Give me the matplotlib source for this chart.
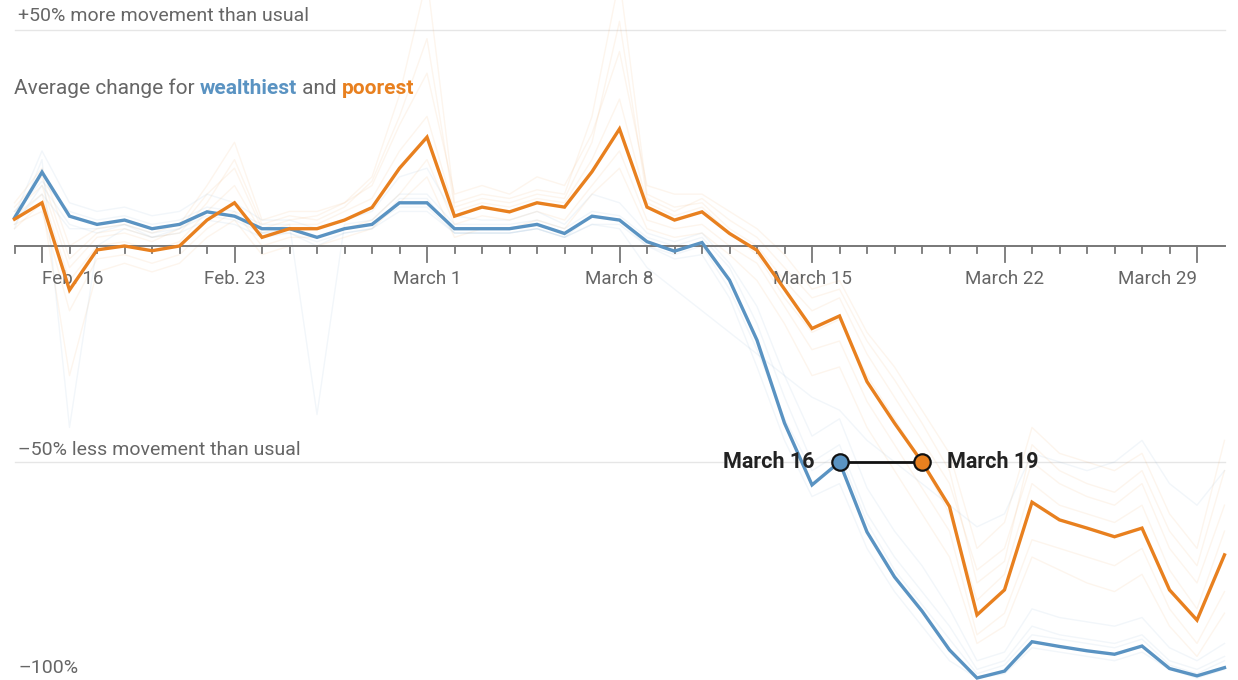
import matplotlib.pyplot as plt

plt.rcParams['font.family'] = ['Roboto', 'DejaVu Sans']

#----- data (percent change in movement vs usual, Feb 15 .. March 30) -----
days = list(range(45))
tick_idx = [1, 8, 15, 22, 29, 36, 43]
tick_labels = ['Feb. 16', 'Feb. 23', 'March 1', 'March 8', 'March 15', 'March 22', 'March 29']

wealthiest = [6.5, 17.1, 6.9, 5.0, 6.0, 4.0, 5.0, 7.9, 6.9, 4.0, 4.0, 2.0, 4.0, 5.0, 10.0,
              10.0, 4.0, 4.0, 4.0, 5.0, 2.9, 6.9, 6.0, 1.0, -1.2, 0.8, -7.9, -21.8, -41.0, -55.3,
              -50.0, -66.2, -76.6, -84.5, -93.5, -100.0, -98.4, -91.6, -92.7, -93.7, -94.5, -92.6, -97.8, -99.5, -97.6]
poorest = [6.2, 10.0, -10.2, -0.9, 0.0, -1.1, 0.0, 6.0, 10.0, 2.0, 4.0, 4.0, 6.0, 8.9, 18.0,
           25.2, 6.9, 9.0, 7.9, 10.0, 9.0, 17.2, 27.1, 9.0, 6.0, 7.9, 2.9, -1.0, -10.0, -19.1,
           -16.2, -31.4, -41.0, -50.0, -60.3, -85.4, -79.6, -59.3, -63.4, -65.3, -67.3, -65.3, -79.6, -86.6, -71.5]

# a few individual neighborhoods, drawn faintly behind the averages
faint_orange = [
    [8, 14, -5, 2, 3, 1, 4, 12, 18, 4, 6, 7, 10, 16, 35, 62, 10, 12, 11, 13, 12, 30, 62, 12, 9, 10, 4, 0, -8, -15,
     -12, -25, -35, -45, -55, -75, -70, -50, -55, -58, -60, -55, -70, -78, -60],
    [5, 8, -15, -3, -2, -4, -2, 4, 8, 0, 2, 2, 4, 6, 12, 20, 5, 7, 6, 8, 6, 14, 22, 6, 4, 5, 0, -4, -14, -24,
     -22, -36, -46, -56, -66, -90, -85, -68, -70, -72, -74, -70, -84, -92, -80],
    [10, 18, 0, 4, 5, 3, 5, 14, 24, 6, 8, 8, 10, 14, 28, 40, 12, 14, 12, 16, 14, 26, 45, 14, 12, 12, 8, 4, -2, -10,
     -8, -20, -28, -38, -48, -70, -64, -42, -48, -50, -52, -48, -62, -70, -45],
    [4, 10, -30, -6, -4, -6, -4, 2, 6, -2, 0, 0, 2, 4, 10, 16, 2, 4, 4, 6, 4, 12, 18, 4, 2, 3, -2, -8, -18, -30,
     -28, -42, -52, -62, -72, -92, -88, -72, -75, -78, -80, -76, -88, -95, -85],
    [7, 12, -8, 0, 1, -1, 1, 8, 14, 3, 5, 5, 8, 11, 22, 30, 8, 10, 9, 11, 10, 20, 34, 10, 7, 9, 3, -2, -12, -20,
     -17, -30, -40, -50, -62, -82, -76, -55, -60, -62, -64, -60, -75, -84, -66],
    [9, 16, -3, 3, 4, 2, 3, 10, 20, 5, 7, 6, 9, 15, 30, 48, 9, 11, 10, 12, 11, 24, 52, 11, 8, 11, 6, 2, -5, -12,
     -10, -22, -31, -41, -52, -78, -73, -46, -52, -55, -57, -52, -66, -74, -52],
]
faint_blue = [
    [4, 20, -42, 0, 4, 2, 3, 6, 5, 2, 3, 0, 3, 4, 8, 8, 3, 3, 3, 4, 2, 5, 5, 0, -3, -2, -12, -28, -45, -58,
     -55, -70, -80, -88, -96, -100, -99, -93, -94, -95, -96, -94, -98, -100, -98],
    [8, 15, 8, 6, 7, 5, 6, 9, 8, 5, 5, -39, 5, 6, 12, 12, 5, 5, 5, 6, 4, 8, 7, 2, 0, 2, -5, -18, -35, -50,
     -46, -62, -72, -80, -88, -98, -96, -88, -90, -91, -92, -90, -96, -98, -95],
    [6, 12, 4, 4, 5, 3, 4, 8, 7, 3, 4, 2, 4, 5, 9, 9, 3, 3, 3, 4, 2, 5, 4, -5, -10, -15, -20, -25, -30, -35,
     -38, -45, -50, -55, -60, -65, -62, -48, -50, -52, -50, -45, -55, -60, -52],
    [7, 22, 10, 8, 9, 7, 8, 12, 10, 6, 6, 4, 6, 8, 16, 18, 7, 6, 6, 8, 5, 12, 10, 3, 1, 3, -4, -14, -30, -44,
     -40, -56, -66, -74, -84, -96, -94, -84, -86, -87, -88, -86, -93, -96, -92],
    [5, 14, 5, 3, 5, 2, 4, 7, 6, 3, 3, 1, 3, 4, 11, 11, 3, 3, 3, 4, 2, 7, 6, 0, -2, 0, -10, -24, -40, -52,
     -48, -64, -75, -83, -91, -99, -97, -90, -91, -92, -93, -91, -97, -99, -96],
]

blue = '#5a93c2'
orange = '#e8801f'
gray_txt = '#666666'

fig = plt.figure(figsize=(12.38, 6.8), dpi=100)
ax = fig.add_axes([0, 0, 1, 1])
ax.set_xlim(-14.5 / 27.5, 44 + 13.5 / 27.5)
ax.set_ylim(-100.46, 56.94)
ax.axis('off')

#----- gridlines and their labels -----
for yv in [50, -50]:
    ax.plot([0, 44], [yv, yv], color='#e6e6e6', lw=1, zorder=1)
ax.text(0.13, 53.2, '+50% more movement than usual', color=gray_txt, fontsize=14, va='center', ha='left')
ax.text(0.13, -47.2, '\u201350% less movement than usual', color=gray_txt, fontsize=14, va='center', ha='left')
ax.text(0.13, -97.7, '\u2013100%', color=gray_txt, fontsize=14, va='center', ha='left')

#----- faint individual lines -----
for vals in faint_orange:
    ax.plot(days, vals, color=orange, lw=1, alpha=0.08, zorder=2)
for vals in faint_blue:
    ax.plot(days, vals, color=blue, lw=1, alpha=0.08, zorder=2)

#----- x axis -----
ax.plot([0, 44], [0, 0], color='#777777', lw=1.4, zorder=3)
for d in days[:-1]:
    ln = 3.8 if d in tick_idx else 1.7
    ax.plot([d, d], [0, -ln], color='#777777', lw=1.3, zorder=3)
for d, lab in zip(tick_idx, tick_labels):
    ha = 'center'
    if d == tick_idx[0]:
        ha = 'left'
    elif d == tick_idx[-1]:
        ha = 'right'
    ax.text(d, -7.7, lab, color=gray_txt, fontsize=13.5, ha=ha, va='center', zorder=3)

#----- average lines -----
ax.plot(days, wealthiest, color=blue, lw=2.4, zorder=5, solid_joinstyle='miter')
ax.plot(days, poorest, color=orange, lw=2.4, zorder=5, solid_joinstyle='miter')

#----- annotation: both groups hitting -50% -----
i_w, i_p = 30, 33
ax.plot([i_w, i_p], [wealthiest[i_w], poorest[i_p]], color='#111111', lw=2, zorder=6)
ax.scatter([i_w], [wealthiest[i_w]], s=140, color=blue, edgecolor='#111111', linewidth=1.6, zorder=7)
ax.scatter([i_p], [poorest[i_p]], s=140, color=orange, edgecolor='#111111', linewidth=1.6, zorder=7)
ax.text(i_w - 0.9, wealthiest[i_w], 'March 16', fontsize=15.5, fontweight='bold', color='#222222',
        ha='right', va='center', zorder=8)
ax.text(i_p + 0.9, poorest[i_p], 'March 19', fontsize=15.5, fontweight='bold', color='#222222',
        ha='left', va='center', zorder=8)

#----- title built from pieces -----
fig.canvas.draw()
renderer = fig.canvas.get_renderer()
pieces = [('Average change for ', gray_txt, 'normal'), ('wealthiest', blue, 'bold'),
          (' and ', gray_txt, 'normal'), ('poorest', orange, 'bold')]
x_px = 14
for txt, col, wt in pieces:
    t = fig.text(x_px / 1238, 1 - 88 / 680, txt, color=col, fontweight=wt, fontsize=15,
                 ha='left', va='center')
    x_px += t.get_window_extent(renderer).width

fig.savefig('out.png', dpi=100)
